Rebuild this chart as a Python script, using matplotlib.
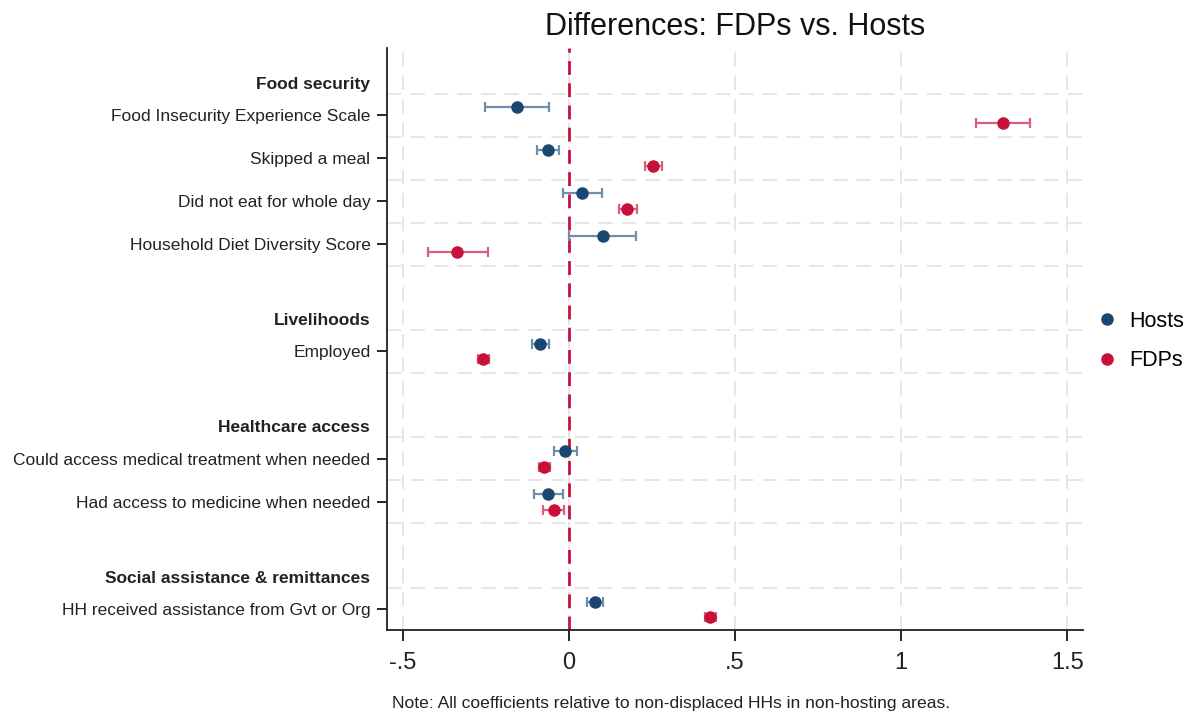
import matplotlib
matplotlib.use("Agg")
import matplotlib.pyplot as plt
import matplotlib.transforms as mtransforms
from matplotlib.lines import Line2D

plt.rcParams['font.family'] = ['Liberation Sans', 'DejaVu Sans']

# Outcome rows (y positions in row units, top to bottom)
outcomes = [
    "Food Insecurity Experience Scale",
    "Skipped a meal",
    "Did not eat for whole day",
    "Household Diet Diversity Score",
    "Employed",
    "Could access medical treatment when needed",
    "Had access to medicine when needed",
    "HH received assistance from Gvt or Org",
]
row_pos = [1.0, 2.0, 3.0, 4.0, 6.5, 9.0, 10.0, 12.5]

headings = ["Food security", "Livelihoods", "Healthcare access",
            "Social assistance & remittances"]
heading_pos = [0.28, 5.79, 8.28, 11.79]

grid_rows = [0.5, 1.5, 2.5, 3.5, 4.5, 6.0, 7.0, 8.5, 9.5, 10.5, 12.0, 13.0]

# Coefficients and 95% CIs
hosts_coef = [-0.158, -0.062, 0.040, 0.103, -0.087, -0.011, -0.062, 0.077]
hosts_lo = [-0.253, -0.095, -0.018, 0.001, -0.112, -0.045, -0.105, 0.053]
hosts_hi = [-0.060, -0.031, 0.098, 0.203, -0.060, 0.023, -0.019, 0.101]

fdps_coef = [1.306, 0.253, 0.176, -0.336, -0.258, -0.075, -0.045, 0.425]
fdps_lo = [1.226, 0.229, 0.151, -0.424, -0.273, -0.091, -0.077, 0.409]
fdps_hi = [1.389, 0.279, 0.204, -0.245, -0.241, -0.057, -0.014, 0.442]

xticks = [-0.5, 0, 0.5, 1, 1.5]
xtick_labels = ["-.5", "0", ".5", "1", "1.5"]

navy = "#1a476f"
cranberry = "#c8103a"

fig = plt.figure(figsize=(11.88, 7.19), dpi=100)
ax = fig.add_axes([0.3258, 0.1238, 0.5859, 0.8094])

# grid
for g in grid_rows:
    ax.axhline(g, color="#e4e4e4", lw=1.3, dashes=(8, 5), zorder=0)
for xt in xticks:
    ax.axvline(xt, color="#e4e4e4", lw=1.3, dashes=(8, 5), zorder=0)

ax.axvline(0, color=cranberry, lw=2.0, dashes=(5, 3), zorder=1)

off = 0.18
hy = [p - off for p in row_pos]
fy = [p + off for p in row_pos]

ax.errorbar(hosts_coef, hy,
            xerr=[[c - l for c, l in zip(hosts_coef, hosts_lo)],
                  [h - c for c, h in zip(hosts_coef, hosts_hi)]],
            fmt="none", ecolor="#6f8ea9", elinewidth=1.6, capsize=3.5,
            capthick=1.6, zorder=2)
ax.plot(hosts_coef, hy, "o", color=navy, ms=8, zorder=3)

ax.errorbar(fdps_coef, fy,
            xerr=[[c - l for c, l in zip(fdps_coef, fdps_lo)],
                  [h - c for c, h in zip(fdps_coef, fdps_hi)]],
            fmt="none", ecolor="#d9607c", elinewidth=1.6, capsize=3.5,
            capthick=1.6, zorder=2)
ax.plot(fdps_coef, fy, "o", color=cranberry, ms=8, zorder=3)

ax.set_xlim(-0.548, 1.548)
ax.set_ylim(12.98, -0.56)

ax.set_yticks(row_pos)
ax.set_yticklabels(outcomes, fontsize=12.5, color="#222222")
ax.set_xticks(xticks)
ax.set_xticklabels(xtick_labels, fontsize=17, color="#222222")
ax.tick_params(axis="y", length=7, width=1.2, pad=5)
ax.tick_params(axis="x", length=8, width=1.2, pad=8)

for s in ["top", "right"]:
    ax.spines[s].set_visible(False)
for s in ["left", "bottom"]:
    ax.spines[s].set_linewidth(1.3)
    ax.spines[s].set_color("#222222")

# group headings
trans = mtransforms.blended_transform_factory(ax.transAxes, ax.transData)
for h, p in zip(headings, heading_pos):
    ax.text(-0.0244, p, h, transform=trans, ha="right", va="center",
            fontsize=12.5, fontweight="bold", color="#222222")

fig.text(0.619, 0.962, "Differences: FDPs vs. Hosts", ha="center",
         va="center", fontsize=22, color="#111111")

fig.text(0.330, 0.022, "Note: All coefficients relative to non-displaced HHs in non-hosting areas.",
         ha="left", va="center", fontsize=12.6, color="#222222")

handles = [Line2D([], [], ls="none", marker="o", color=navy, ms=8),
           Line2D([], [], ls="none", marker="o", color=cranberry, ms=8)]
fig.legend(handles, ["Hosts", "FDPs"], loc="center left",
           bbox_to_anchor=(0.923, 0.5257), frameon=False, fontsize=15.5,
           handletextpad=0.5, labelspacing=0.85, handlelength=1.0,
           borderpad=0, borderaxespad=0)

fig.savefig("out.png", dpi=100)
